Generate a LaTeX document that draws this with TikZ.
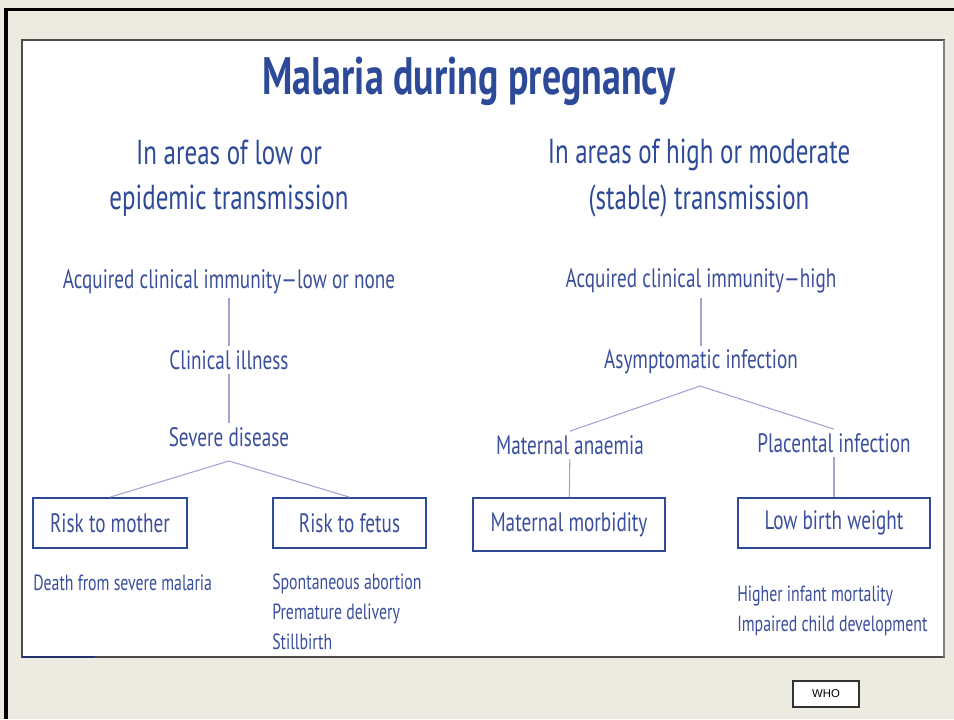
\documentclass[tikz,border=0pt]{standalone}
\usepackage{fontspec}
\setmainfont{PT Sans}
\newfontfamily\condfont[FakeStretch=0.72,Ligatures=TeX]{PT Sans}
\newfontfamily\whofont{Liberation Sans}
\definecolor{slidebg}{HTML}{EDEAE0}
\definecolor{malblue}{HTML}{2D4A99}
\definecolor{maltext}{HTML}{3A4F9C}
\definecolor{branch}{HTML}{A3A3D3}
\usetikzlibrary{positioning}

\begin{document}
\begin{tikzpicture} [x=0.75pt,y=-0.75pt,
  title/.style= {text=malblue,font=\condfont\bfseries\fontsize{39.5}{42}\selectfont,inner sep=0},
  head/.style= {text=malblue,font=\condfont\fontsize{26}{34}\selectfont,align=center,inner sep=0},
  txt/.style= {text=maltext,font=\condfont\fontsize{20}{24}\selectfont,inner sep=3pt},
  note/.style= {text=maltext,font=\condfont\fontsize{16.5}{22.5}\selectfont,align=left,anchor=west,inner sep=0},
  riskbox/.style= {draw=malblue,line width=1.3pt,text=maltext,font=\condfont\fontsize{20}{24}\selectfont,inner sep=0,minimum height=37.5pt},
  link/.style= {draw=branch,line width=0.8pt}]
  % Slide
  \fill[slidebg] (0,0) rectangle (954,719);
  \useasboundingbox (0,0) rectangle (954,719);
  \draw[black,line width=2.3pt] (6,719) -- (6,9.5) -- (954,9.5);
  \draw[fill=white,draw=black!70,line width=1pt] (22,40) rectangle (944,657);
  \draw[black!50,line width=1.4pt] (944,40) -- (944,657);
  \draw[malblue!70!black,line width=1pt] (22,657) -- (95,657);
  % Headings
  \node[title] (title) at (469,81) {Malaria during pregnancy};
  \node[head] (lowhead) at (229,178) {In areas of low or\\epidemic transmission};
  \node[head] (highhead) at (699,178) {In areas of high or moderate\\(stable) transmission};
  % Low transmission
  \node[txt] (lowimm) at (229,282) {Acquired clinical immunity---low or none};
  \node[txt] (illness) at (229,360) {Clinical illness};
  \node[txt] (severe) at (229,437) {Severe disease};
  \coordinate (lowfork) at (229,461);
  \node[riskbox,minimum width=115.5pt] (mother) at (110,523) {Risk to mother};
  \node[riskbox,minimum width=114.75pt] (fetus) at (349.5,523) {Risk to fetus};
  \node[note] (death) at (33,583) {Death from severe malaria};
  \node[note] (fetalout) at (272,612) {Spontaneous abortion\\Premature delivery\\Stillbirth};
  % High transmission
  \node[txt] (highimm) at (701,281) {Acquired clinical immunity---high};
  \node[txt] (asympt) at (701,362) {Asymptomatic infection};
  \coordinate (highfork) at (700,386);
  \node[txt] (anaemia) at (570,445) {Maternal anaemia};
  \node[txt] (placenta) at (834,443) {Placental infection};
  \node[riskbox,minimum width=144pt,minimum height=39.75pt] (morbid) at (569,524.5) {Maternal morbidity};
  \node[riskbox,minimum width=144pt] (lbw) at (834,523) {Low birth weight};
  \node[note] (infantout) at (737,611) {Higher infant mortality\\Impaired child development};
  % Connectors
  \draw[link] (lowimm) -- (illness);
  \draw[link] (illness) -- (severe);
  \draw[link] (mother.north) -- (lowfork) -- (fetus.north);
  \draw[link] (highimm) -- (asympt);
  \draw[link] (anaemia.north) -- (highfork) -- (placenta.north);
  \draw[link] (anaemia) -- (morbid);
  \draw[link] (placenta) -- (lbw);
  % Source
  \node[draw=black!80,fill=white,line width=0.8pt,minimum width=49.5pt,minimum height=19.5pt,inner sep=0,font=\whofont\fontsize{8.5}{10}\selectfont] (source) at (826,694) {WHO};
\end{tikzpicture}
\end{document}
